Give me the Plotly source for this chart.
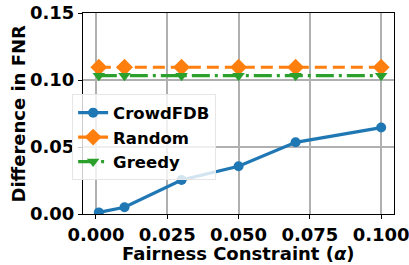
import plotly.graph_objects as go

alpha = [0.001, 0.01, 0.03, 0.05, 0.07, 0.1]
crowdfdb = [0.0012, 0.005, 0.0254, 0.0356, 0.0535, 0.0645]
random_ = [0.1095, 0.1095, 0.1095, 0.1095, 0.1095, 0.1095]
greedy = [0.1032, 0.1032, 0.1032, 0.1032, 0.1032, 0.1032]

xticks = [0.0, 0.025, 0.05, 0.075, 0.1]
xticklabels = ["0.000", "0.025", "0.050", "0.075", "0.100"]
yticks = [0.0, 0.05, 0.10, 0.15]
yticklabels = ["0.00", "0.05", "0.10", "0.15"]

FONT = "DejaVu Sans"

fig = go.Figure()
fig.add_trace(go.Scatter(x=alpha, y=crowdfdb, name="<b>CrowdFDB</b>", mode="lines+markers",
                         line=dict(color="#1f77b4", width=3.2),
                         marker=dict(symbol="circle", size=10, color="#1f77b4")))
fig.add_trace(go.Scatter(x=alpha, y=random_, name="<b>Random</b>", mode="lines+markers",
                         line=dict(color="#ff7f0e", width=3.2, dash="12px,6px"),
                         marker=dict(symbol="diamond", size=13, color="#ff7f0e")))
fig.add_trace(go.Scatter(x=alpha, y=greedy, name="<b>Greedy</b>", mode="lines+markers",
                         line=dict(color="#2ca02c", width=3.2, dash="18px,5px,3px,5px"),
                         marker=dict(symbol="triangle-down", size=11, color="#2ca02c")))

axis_common = dict(showline=True, linecolor="black", linewidth=1.2, mirror=True,
                   showgrid=True, gridcolor="#b0b0b0", gridwidth=1.5,
                   ticks="outside", ticklen=4, tickwidth=1.2, tickcolor="black",
                   zeroline=False, ticklabeloverflow="allow", automargin=False,
                   tickfont=dict(family=FONT, size=18, color="black"))

fig.update_xaxes(range=[-0.00455, 0.1045], tickvals=xticks,
                 ticktext=["<b>%s</b>" % t for t in xticklabels],
                 **axis_common)
fig.update_yaxes(range=[0, 0.15], tickvals=yticks,
                 ticktext=["<b>%s</b>" % t for t in yticklabels],
                 **axis_common)

fig.add_annotation(text="<b>Fairness Constraint (<i>α</i>)</b>", xref="paper", yref="paper",
                   x=0.5, y=0, xanchor="center", yanchor="top", yshift=-27, showarrow=False,
                   font=dict(family=FONT, size=18, color="black"))
fig.add_annotation(text="<b>Difference in FNR</b>", xref="paper", yref="paper",
                   x=0, y=0.5, xanchor="center", yanchor="middle", xshift=-65, textangle=-90,
                   showarrow=False, font=dict(family=FONT, size=18, color="black"))

fig.update_layout(
    width=409, height=265,
    margin=dict(l=83, r=15, t=13, b=51),
    paper_bgcolor="white", plot_bgcolor="white",
    font=dict(family=FONT, color="black"),
    legend=dict(x=-0.035, y=0.595, xanchor="left", yanchor="top",
                bgcolor="rgba(255,255,255,0.8)", bordercolor="#e6e6e6", borderwidth=1,
                font=dict(family=FONT, size=16.5, color="black"),
                tracegroupgap=0, itemwidth=30),
    showlegend=True,
)

fig.write_html("out.html", config={"displayModeBar": False},
               post_script="document.body.style.margin='0';document.body.style.overflow='hidden';")
